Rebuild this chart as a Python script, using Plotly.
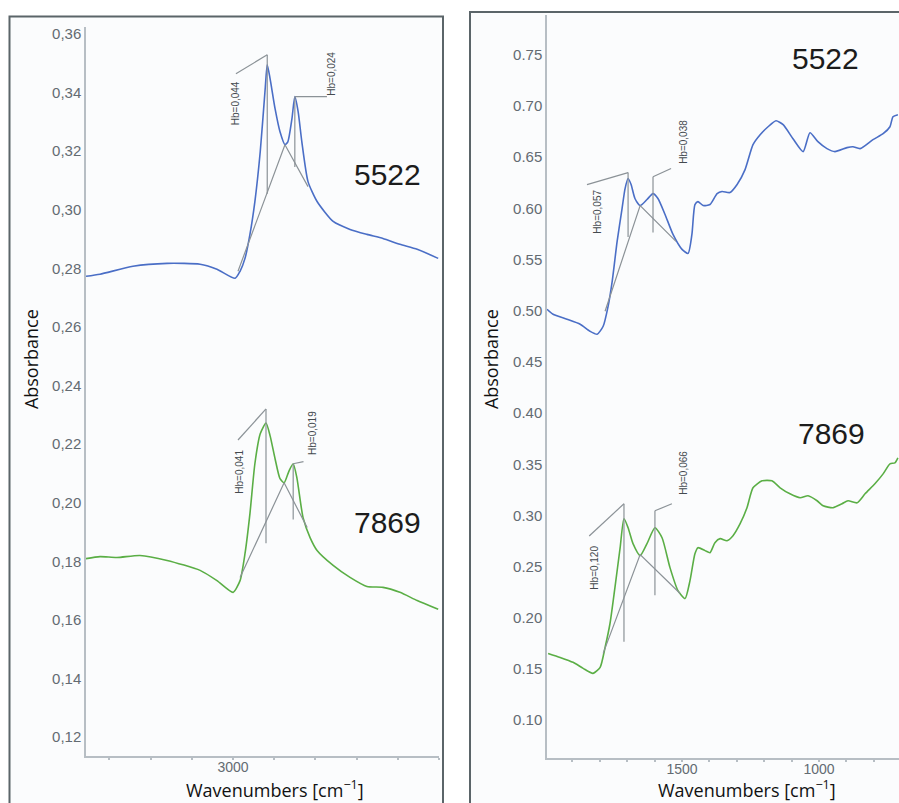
import plotly.graph_objects as go

# ---------------- spectra: C-H stretching region (left panel) ----------------
wn_ch_5522 = [3357, 3323, 3243, 3160, 3080, 3039, 2995, 2983, 2971, 2959, 2947, 2934,
              2922, 2917, 2910, 2898, 2886, 2874, 2867, 2857, 2850, 2842, 2833, 2818,
              2796, 2757, 2716, 2675, 2636, 2595, 2553, 2502]
abs_ch_5522 = [0.2773, 0.2780, 0.2807, 0.2817, 0.2814, 0.2797, 0.2766, 0.2790, 0.2834,
               0.2916, 0.3028, 0.3198, 0.3413, 0.3495, 0.3447, 0.3345, 0.3266, 0.3222,
               0.3232, 0.3311, 0.3386, 0.3335, 0.3232, 0.3096, 0.3028, 0.2960, 0.2933,
               0.2916, 0.2902, 0.2882, 0.2865, 0.2834]

wn_ch_7869 = [3357, 3323, 3282, 3226, 3160, 3080, 3039, 3000, 2983, 2971, 2959, 2947,
              2934, 2920, 2910, 2898, 2886, 2876, 2864, 2854, 2845, 2830, 2813, 2796,
              2757, 2716, 2675, 2636, 2595, 2553, 2502]
abs_ch_7869 = [0.1809, 0.1816, 0.1813, 0.1820, 0.1803, 0.1769, 0.1734, 0.1694, 0.1734,
               0.1826, 0.1963, 0.2133, 0.2235, 0.2272, 0.2228, 0.2150, 0.2082, 0.2068,
               0.2109, 0.2133, 0.2085, 0.1949, 0.1881, 0.1837, 0.1786, 0.1745, 0.1714,
               0.1711, 0.1694, 0.1666, 0.1636]

# ---------------- spectra: fingerprint region (right panel) ----------------
wn_fp_5522 = [1993, 1971, 1920, 1872, 1836, 1810, 1788, 1770, 1755, 1737, 1719, 1708,
              1697, 1686, 1672, 1653, 1628, 1606, 1588, 1562, 1533, 1500, 1478, 1464,
              1453, 1442, 1423, 1398, 1372, 1354, 1325, 1299, 1270, 1241, 1215, 1186,
              1157, 1131, 1095, 1058, 1033, 1004, 971, 942, 898, 876, 850, 803, 766,
              741, 730, 712]
abs_fp_5522 = [0.5015, 0.4966, 0.4918, 0.4869, 0.4800, 0.4771, 0.4849, 0.5044, 0.5288,
               0.5678, 0.5999, 0.6194, 0.6292, 0.6233, 0.6097, 0.6028, 0.6087, 0.6145,
               0.6097, 0.5941, 0.5746, 0.5600, 0.5561, 0.5746, 0.6038, 0.6067, 0.6028,
               0.6038, 0.6145, 0.6165, 0.6155, 0.6233, 0.6379, 0.6623, 0.6720, 0.6798,
               0.6857, 0.6818, 0.6681, 0.6555, 0.6740, 0.6652, 0.6584, 0.6555, 0.6594,
               0.6603, 0.6584, 0.6672, 0.6730, 0.6798, 0.6896, 0.6915]

wn_fp_7869 = [1989, 1945, 1898, 1861, 1825, 1799, 1781, 1763, 1745, 1726, 1712, 1697,
              1679, 1653, 1628, 1599, 1573, 1544, 1515, 1489, 1471, 1453, 1442, 1416,
              1398, 1380, 1361, 1336, 1314, 1288, 1263, 1241, 1208, 1172, 1142, 1106,
              1069, 1040, 1007, 985, 949, 916, 894, 861, 832, 796, 766, 741, 723, 712]
abs_fp_7869 = [0.1653, 0.1614, 0.1566, 0.1507, 0.1458, 0.1517, 0.1711, 0.1945, 0.2296,
               0.2686, 0.2968, 0.2881, 0.2725, 0.2608, 0.2725, 0.2881, 0.2783, 0.2491,
               0.2267, 0.2189, 0.2364, 0.2627, 0.2686, 0.2657, 0.2637, 0.2735, 0.2774,
               0.2754, 0.2803, 0.2920, 0.3076, 0.3271, 0.3339, 0.3339, 0.3271, 0.3212,
               0.3173, 0.3193, 0.3144, 0.3095, 0.3076, 0.3115, 0.3144, 0.3124, 0.3212,
               0.3310, 0.3407, 0.3505, 0.3514, 0.3563]

# ---------------- peak heights above local baseline ----------------
peak_wn_ch_5522 = [2917, 2850]
peak_abs_ch_5522 = [0.3495, 0.3386]
hb_ch_5522 = [0.044, 0.024]

peak_wn_ch_7869 = [2920, 2854]
peak_abs_ch_7869 = [0.2272, 0.2133]
hb_ch_7869 = [0.041, 0.019]

peak_wn_fp_5522 = [1697, 1606]
peak_abs_fp_5522 = [0.6292, 0.6145]
hb_fp_5522 = [0.057, 0.038]

peak_wn_fp_7869 = [1712, 1599]
peak_abs_fp_7869 = [0.2968, 0.2881]
hb_fp_7869 = [0.120, 0.066]

# baseline anchor points (left end, shared valley, right end)
base_wn_ch_5522 = [2988, 2874, 2818]
base_abs_ch_5522 = [0.2790, 0.3222, 0.3079]
base_wn_ch_7869 = [2983, 2876, 2820]
base_abs_ch_7869 = [0.1745, 0.2068, 0.1915]
base_wn_fp_5522 = [1781, 1653, 1522]
base_abs_fp_5522 = [0.4996, 0.6028, 0.5678]
base_wn_fp_7869 = [1788, 1653, 1507]
base_abs_fp_7869 = [0.1653, 0.2618, 0.2238]

# ---------------- axis ticks ----------------
ytick_ch = [0.12, 0.14, 0.16, 0.18, 0.20, 0.22, 0.24, 0.26, 0.28, 0.30, 0.32, 0.34, 0.36]
ytick_ch_text = ["0,12", "0,14", "0,16", "0,18", "0,20", "0,22", "0,24", "0,26", "0,28",
                 "0,30", "0,32", "0,34", "0,36"]
ytick_fp = [0.10, 0.15, 0.20, 0.25, 0.30, 0.35, 0.40, 0.45, 0.50, 0.55, 0.60, 0.65, 0.70, 0.75]
ytick_fp_text = ["0.10", "0.15", "0.20", "0.25", "0.30", "0.35", "0.40", "0.45", "0.50",
                 "0.55", "0.60", "0.65", "0.70", "0.75"]
xtick_ch = [3000]
xtick_fp = [1500, 1000]

sample_names = ["5522", "7869"]

# ---------------- styling ----------------
W, H = 899, 803
BLUE = "#4a6ec6"
GREEN = "#5aae45"
GREY = "#8b9297"
AXIS = "#b7bec4"
TICKTXT = "#636b72"
FRAME = "#5b6569"
PANEL = "#fbfcfd"


def px_x(p):
    return p / W


def px_y(p):
    return 1 - p / H


# leader geometry per peak: rise of the knee above the peak, then the free end offset
leaders = {
    "ch_5522": [dict(rise=0.0034, dx=76, dy=-0.0065, lx=2995, ly=0.3364),
                dict(rise=0.0, dx=-78, dy=0.0, lx=2760, ly=0.3464)],
    "ch_7869": [dict(rise=0.0048, dx=68, dy=-0.0106, lx=2983, ly=0.2106),
                dict(rise=0.0, dx=-25, dy=0.0007, lx=2806, ly=0.2238)],
    "fp_5522": [dict(rise=0.0058, dx=150, dy=-0.0117, lx=1810, ly=0.597),
                dict(rise=0.0165, dx=-66, dy=0.008, lx=1493, ly=0.665)],
    "fp_7869": [dict(rise=0.0147, dx=127, dy=-0.0315, lx=1818, ly=0.249),
                dict(rise=0.0165, dx=-62, dy=0.0069, lx=1493, ly=0.3417)],
}

fig = go.Figure()
annotations = []


def hb_text(v):
    return "Hb=" + f"{v:.3f}".replace(".", ",")


def add_spectrum(key, wn, ab, color, pwn, pab, hb, bwn, bab, xa, ya):
    fig.add_trace(go.Scatter(x=wn, y=ab, mode="lines", xaxis=xa, yaxis=ya,
                             line=dict(color=color, width=1.6, shape="spline", smoothing=0.6),
                             hoverinfo="skip"))
    # baselines
    fig.add_trace(go.Scatter(x=bwn, y=bab, mode="lines", xaxis=xa, yaxis=ya,
                             line=dict(color=GREY, width=1.2), hoverinfo="skip"))
    for i in range(len(pwn)):
        g = leaders[key][i]
        top = pab[i] + g["rise"]
        # peak height marker: from the knee down to peak minus Hb
        fig.add_trace(go.Scatter(x=[pwn[i], pwn[i]], y=[top, pab[i] - hb[i]], mode="lines",
                                 xaxis=xa, yaxis=ya, line=dict(color=GREY, width=1.2),
                                 hoverinfo="skip"))
        fig.add_trace(go.Scatter(x=[pwn[i], pwn[i] + g["dx"]], y=[top, top + g["dy"]],
                                 mode="lines", xaxis=xa, yaxis=ya,
                                 line=dict(color=GREY, width=1.2), hoverinfo="skip"))
        annotations.append(dict(x=g["lx"], y=g["ly"], xref=xa, yref=ya, text=hb_text(hb[i]),
                                textangle=-90, showarrow=False, xanchor="center",
                                yanchor="middle",
                                font=dict(family="Liberation Sans", size=10, color="#444a4f")))


add_spectrum("ch_5522", wn_ch_5522, abs_ch_5522, BLUE, peak_wn_ch_5522, peak_abs_ch_5522,
             hb_ch_5522, base_wn_ch_5522, base_abs_ch_5522, "x", "y")
add_spectrum("ch_7869", wn_ch_7869, abs_ch_7869, GREEN, peak_wn_ch_7869, peak_abs_ch_7869,
             hb_ch_7869, base_wn_ch_7869, base_abs_ch_7869, "x", "y")
add_spectrum("fp_5522", wn_fp_5522, abs_fp_5522, BLUE, peak_wn_fp_5522, peak_abs_fp_5522,
             hb_fp_5522, base_wn_fp_5522, base_abs_fp_5522, "x2", "y2")
add_spectrum("fp_7869", wn_fp_7869, abs_fp_7869, GREEN, peak_wn_fp_7869, peak_abs_fp_7869,
             hb_fp_7869, base_wn_fp_7869, base_abs_fp_7869, "x2", "y2")

# sample names
name_font = dict(family="Liberation Sans", size=30, color="#1c1c1c")
for xv, yv, xr, yr, nm in [(2624, 0.312, "x", "y", sample_names[0]),
                           (2626, 0.1932, "x", "y", sample_names[1]),
                           (978, 0.746, "x2", "y2", sample_names[0]),
                           (953, 0.3797, "x2", "y2", sample_names[1])]:
    annotations.append(dict(x=xv, y=yv, xref=xr, yref=yr, text=nm, showarrow=False,
                            xanchor="center", yanchor="middle", font=name_font))

# axis titles
title_font = dict(family="Open Sans", size=18, color="#111111")
for xp, yp, txt, ang, ya in [(31, 358, "Absorbance", -90, "middle"),
                             (491, 358, "Absorbance", -90, "middle"),
                             (275, 803, "Wavenumbers [cm<sup>\u22121</sup>]", 0, "bottom"),
                             (747, 803, "Wavenumbers [cm<sup>\u22121</sup>]", 0, "bottom")]:
    annotations.append(dict(x=px_x(xp), y=px_y(yp), xref="paper", yref="paper", text=txt,
                            textangle=ang, showarrow=False, xanchor="center",
                            yanchor=ya, borderpad=0, font=title_font))

# panel frames
shapes = [
    dict(type="rect", xref="paper", yref="paper", x0=px_x(9.5), x1=px_x(443), y0=-0.05,
         y1=px_y(14.5), line=dict(color=FRAME, width=2), fillcolor=PANEL, layer="below"),
    dict(type="rect", xref="paper", yref="paper", x0=px_x(470), x1=1.05, y0=-0.05,
         y1=px_y(10), line=dict(color=FRAME, width=2), fillcolor=PANEL, layer="below"),
]

tick_font = dict(family="Liberation Sans", size=15, color=TICKTXT)
xtick_font = dict(family="Liberation Sans", size=14, color=TICKTXT)
common_x = dict(showgrid=False, zeroline=False, showline=True, linecolor=AXIS, linewidth=1.5,
                ticks="outside", ticklen=2, tickwidth=2, tickcolor=AXIS, tickfont=xtick_font,
                tickmode="array", autorange=False, ticklabelstandoff=-5)
common_y = dict(showgrid=False, zeroline=False, showline=True, linecolor=AXIS, linewidth=1.5,
                ticks="", tickfont=tick_font, tickmode="array", autorange=False,
                ticklabelstandoff=0)

fig.update_layout(
    width=W, height=H, margin=dict(l=0, r=0, t=0, b=0),
    paper_bgcolor="white", plot_bgcolor="rgba(0,0,0,0)", showlegend=False,
    shapes=shapes, annotations=annotations,
    xaxis=dict(common_x, domain=[px_x(86), px_x(439)], range=[3357, 2500], anchor="y",
               tickvals=xtick_ch, minor=dict(dtick=100, tick0=3000, ticks="outside", ticklen=2,
                                             tickwidth=2, tickcolor=AXIS)),
    yaxis=dict(common_y, domain=[px_y(756), px_y(25)], range=[0.1135, 0.3624], anchor="x",
               tickvals=ytick_ch, ticktext=ytick_ch_text),
    xaxis2=dict(common_x, domain=[px_x(547), 1.0], range=[1993, 708], anchor="y2",
                tickvals=xtick_fp, minor=dict(dtick=100, tick0=1000, ticks="outside", ticklen=2,
                                              tickwidth=2, tickcolor=AXIS)),
    yaxis2=dict(common_y, domain=[px_y(758), px_y(13)], range=[0.063, 0.789], anchor="x2",
                tickvals=ytick_fp, ticktext=ytick_fp_text),
)

fig.write_html("out.html")
